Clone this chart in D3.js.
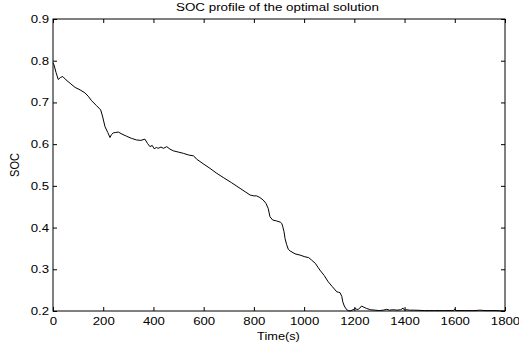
<!DOCTYPE html>
<html><head><meta charset="utf-8">
<script src="https://cdn.jsdelivr.net/npm/d3@7"></script>
<style>body{margin:0;background:#fff;} svg{display:block;} text{font-family:"Liberation Sans",Arial,sans-serif;fill:#000;}</style>
</head><body>
<script>
const titleText = "SOC profile of the optimal solution";
const xLabel = "Time(s)";
const yLabel = "SOC";
const xTicks = [0,200,400,600,800,1000,1200,1400,1600,1800];
const yTicks = [0.2,0.3,0.4,0.5,0.6,0.7,0.8,0.9];
const timeValues = [0,4,12,21,30,39,52,68,88,108,127,140,154,172,190,198,207,218,227,233,240,250,260,275,293,312,333,350,366,376,386,395,403,412,419,430,440,453,466,479,499,519,540,559,565,572,598,625,650,678,710,745,765,785,800,811,824,837,848,857,864,875,890,905,911,915,920,924,930,937,944,964,984,1003,1018,1030,1045,1056,1063,1080,1096,1113,1130,1137,1143,1150,1154,1160,1167,1175,1183,1195,1203,1210,1216,1222,1229,1238,1249,1265,1282,1300,1315,1329,1340,1355,1370,1385,1394,1400,1410,1420,1440,1480,1520,1560,1595,1600,1605,1640,1680,1700,1720,1760,1800];
const socValues = [0.795,0.790,0.772,0.755,0.760,0.762,0.754,0.746,0.736,0.730,0.723,0.715,0.704,0.693,0.682,0.665,0.642,0.628,0.616,0.623,0.627,0.628,0.629,0.624,0.619,0.614,0.610,0.609,0.612,0.602,0.594,0.597,0.589,0.592,0.590,0.593,0.590,0.594,0.588,0.584,0.581,0.578,0.574,0.572,0.569,0.564,0.553,0.542,0.531,0.520,0.508,0.494,0.486,0.478,0.476,0.476,0.472,0.466,0.458,0.446,0.426,0.418,0.416,0.413,0.410,0.402,0.390,0.374,0.360,0.348,0.344,0.337,0.334,0.330,0.328,0.322,0.314,0.304,0.298,0.285,0.270,0.258,0.246,0.245,0.244,0.235,0.222,0.212,0.205,0.201,0.200,0.203,0.206,0.204,0.204,0.207,0.212,0.209,0.206,0.203,0.202,0.201,0.202,0.204,0.202,0.203,0.202,0.203,0.207,0.202,0.203,0.202,0.202,0.201,0.201,0.201,0.201,0.205,0.201,0.201,0.201,0.202,0.201,0.201,0.200];

const W=519,H=350;
const m={l:53,r:505,t:19,b:311};
const svg=d3.select("body").append("svg").attr("width",W).attr("height",H);
const x=d3.scaleLinear().domain([0,1800]).range([m.l,m.r]);
const y=d3.scaleLinear().domain([0.2,0.9]).range([m.b,m.t]);
const fmtY=d3.format(".1f");
const stretch=1.2;
function widen(sel,k){sel.each(function(){const w=this.getComputedTextLength();d3.select(this).attr("textLength",w*k).attr("lengthAdjust","spacingAndGlyphs");});}

const tl=4;
svg.append("g").attr("transform",`translate(0,${m.b})`)
  .call(d3.axisBottom(x).tickValues(xTicks).tickSizeInner(-tl).tickSizeOuter(0).tickPadding(6).tickFormat(d3.format("d")))
  .call(g=>{g.select(".domain").remove();g.selectAll("text").attr("font-size",11).attr("font-family","Liberation Sans, Arial, sans-serif").call(widen,stretch);});
svg.append("g").attr("transform",`translate(0,${m.t})`)
  .call(d3.axisTop(x).tickValues(xTicks).tickSizeInner(-tl).tickSizeOuter(0).tickFormat(""))
  .call(g=>g.select(".domain").remove());
svg.append("g").attr("transform",`translate(${m.l},0)`)
  .call(d3.axisLeft(y).tickValues(yTicks).tickSizeInner(-tl).tickSizeOuter(0).tickPadding(4).tickFormat(fmtY))
  .call(g=>{g.select(".domain").remove();g.selectAll("text").attr("font-size",11).attr("font-family","Liberation Sans, Arial, sans-serif").call(widen,stretch);});
svg.append("g").attr("transform",`translate(${m.r},0)`)
  .call(d3.axisRight(y).tickValues(yTicks).tickSizeInner(-tl).tickSizeOuter(0).tickFormat(""))
  .call(g=>g.select(".domain").remove());

svg.append("rect").attr("x",m.l).attr("y",m.t).attr("width",m.r-m.l).attr("height",m.b-m.t)
  .attr("fill","none").attr("stroke","#000").attr("stroke-width",1);

const line=d3.line().x((d,i)=>x(timeValues[i])).y(d=>y(d));
svg.append("path").datum(socValues).attr("d",line).attr("fill","none").attr("stroke","#000").attr("stroke-width",1);

svg.append("text").attr("x",277.5).attr("y",10.5).attr("text-anchor","middle").attr("font-size",10)
  .attr("textLength",203).attr("lengthAdjust","spacingAndGlyphs").text(titleText);
svg.append("text").attr("x",278.5).attr("y",339.5).attr("text-anchor","middle").attr("font-size",11).text(xLabel).call(widen,1.16);
svg.append("text").attr("transform",`translate(19,165) rotate(-90) scale(1,1.2)`).attr("text-anchor","middle").attr("font-size",11).text(yLabel);
</script>
</body></html>
